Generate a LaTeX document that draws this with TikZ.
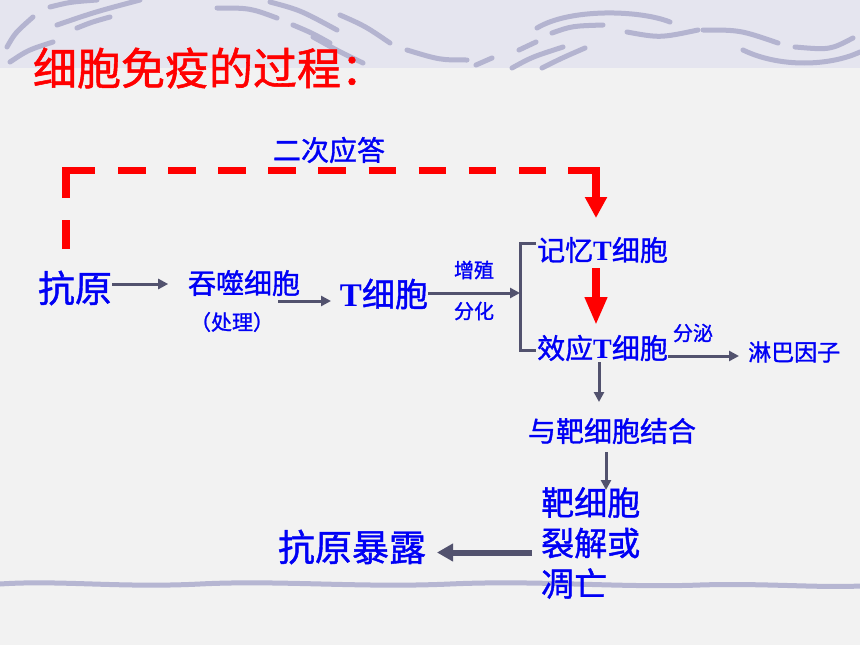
\documentclass[tikz,border=0pt]{standalone}
\usepackage{fontspec}
\newfontfamily\cjkfont[FakeBold=1.2]{Noto Sans CJK SC}
\newfontfamily\serifT{Liberation Serif}
\usetikzlibrary{arrows.meta}
\definecolor{bodybg}{RGB}{242,242,242}
\definecolor{bandbg}{RGB}{229,229,239}
\definecolor{swooshc}{RGB}{180,180,208}
\definecolor{lineband}{RGB}{182,182,210}
\definecolor{txtblue}{RGB}{0,0,245}
\definecolor{arrgray}{RGB}{82,82,110}
\definecolor{dashred}{RGB}{255,0,0}
\newcommand\Tb{{\serifT\bfseries T}}
\newcommand\fsz[1]{\fontsize{#1}{#1}\selectfont}
\begin{document}
\begin{tikzpicture}[x=1pt,y=-1pt,
  lbl/.style={inner sep=0pt, text=txtblue},
  swoosh/.style={draw=swooshc, line width=5pt, line cap=round},
  garrow/.style={draw=arrgray, line width=3pt, -{Triangle[length=10pt,width=10pt]}},
  gline/.style={draw=arrgray, line width=3pt},
  bigarrow/.style={draw=arrgray, line width=6pt, -{Triangle[length=16pt,width=17pt]}},
  reddash/.style={draw=dashred, line width=7.5pt, line join=miter},
  redarrow/.style={draw=dashred, line width=8pt, -{Triangle[length=28pt,width=21pt]}}]
% background
\useasboundingbox (0,0) rectangle (860,645);
\fill[bodybg] (0,0) rectangle (860,645);
\fill[bandbg] (0,0) rectangle (860,68);
% decorative strokes in the top band
\draw[swoosh] (7,47) .. controls (15,33) .. (33,17);
\draw[swoosh] (10,62) .. controls (28,50) .. (53,42);
\draw[swoosh] (50,7) .. controls (70,2) .. (97,0);
\draw[swoosh] (57,25) .. controls (95,12) .. (140,0);
\draw[swoosh] (77,28) .. controls (92,22) .. (110,17);
\draw[swoosh] (217,8) .. controls (250,8) .. (277,18);
\draw[swoosh] (270,2) .. controls (300,10) .. (337,30);
\draw[swoosh] (293,25) .. controls (312,33) .. (330,43);
\draw[swoosh] (340,15) .. controls (365,26) .. (390,43);
\draw[swoosh] (313,37) .. controls (340,52) .. (363,63);
\draw[swoosh] (407,50) .. controls (440,60) .. (467,60);
\draw[swoosh] (476,65) -- (492,58);
\draw[swoosh] (519,50) -- (536,42);
\draw[swoosh] (512,68) .. controls (532,57) .. (563,47);
\draw[swoosh] (542,68) .. controls (562,58) .. (585,48);
\draw[swoosh] (537,28) .. controls (570,8) and (640,10) .. (670,22);
\draw[swoosh] (552,33) .. controls (572,26) .. (603,25);
\draw[swoosh] (627,32) .. controls (660,38) .. (698,30);
\draw[swoosh] (703,30) .. controls (740,30) .. (778,43);
\draw[swoosh] (743,50) .. controls (780,68) and (830,66) .. (860,52);
\draw[swoosh] (795,47) .. controls (830,50) .. (853,38);
% bottom wavy line
\draw[draw=lineband, line width=5pt] (0,584) .. controls (60,580) and (120,588) .. (200,584)
  .. controls (280,580) and (360,588) .. (450,584) .. controls (540,580) and (620,588) .. (700,585)
  .. controls (760,583) and (820,588) .. (860,586);
% title
\node[inner sep=0pt, text=dashred, font=\cjkfont\fsz{44}] (title) at (209,68) {细胞免疫的过程：};
% nodes
\node[lbl, font=\cjkfont\fsz{28}] (erci) at (329,150) {二次应答};
\node[lbl, font=\cjkfont\fsz{37}] (kangyuan) at (75,288) {抗原};
\node[lbl, font=\cjkfont\fsz{28}] (tunshi) at (244,283) {吞噬细胞};
\node[lbl, font=\cjkfont\fsz{21}] (chuli) at (232,322) {（处理）};
\node[lbl, font=\cjkfont\fsz{33}] (tcell) at (384,294) {\Tb 细胞};
\node[lbl, font=\cjkfont\fsz{20}] (zengzhi) at (474,270) {增殖};
\node[lbl, font=\cjkfont\fsz{20}] (fenhua) at (474,311) {分化};
\node[lbl, font=\cjkfont\fsz{28}, anchor=west] (jiyi) at (537,250) {记忆\Tb 细胞};
\node[lbl, font=\cjkfont\fsz{28}, anchor=west] (xiaoying) at (537,348) {效应\Tb 细胞};
\node[lbl, font=\cjkfont\fsz{20}] (fenmi) at (693,333) {分泌};
\node[lbl, font=\cjkfont\fsz{23}, anchor=west] (linba) at (748,352) {淋巴因子};
\node[lbl, font=\cjkfont\fsz{28}] (yuba) at (612,431) {与靶细胞结合};
\node[lbl, font={\cjkfont\fontsize{33}{40.5}\selectfont}, anchor=west, align=left] (baxibao) at (541,543) {靶细胞\\裂解或\\凋亡};
\node[lbl, font=\cjkfont\fsz{37}] (baolu) at (352,547) {抗原暴露};
% secondary response dashed path
\coordinate (dA) at (66,249);
\coordinate (dB) at (66,220);
\coordinate (dC) at (66,198);
\coordinate (dCorner1) at (66,170.5);
\coordinate (dD) at (95,170.5);
\coordinate (dE) at (118,170.5);
\coordinate (dF) at (547,170.5);
\coordinate (dG) at (568,170.5);
\coordinate (dCorner2) at (596,170.5);
\coordinate (dTip) at (596,218);
\draw[reddash] (dA) -- (dB);
\draw[reddash] (dC) -- (dCorner1) -- (dD);
\draw[reddash, dash pattern=on 27.5pt off 22.6pt] (dE) -- (dF);
\draw[reddash, -{Triangle[length=21pt,width=21pt]}] (dG) -- (dCorner2) -- (dTip);
% memory -> effector
\coordinate (rA) at (596,268);
\coordinate (rB) at (596,325);
\draw[redarrow] (rA) -- (rB);
% grey connectors
\draw[garrow] ([yshift=4pt]kangyuan.east) -- ++(56,0);
\draw[garrow] (278,301) -- (331,301);
\coordinate (brM) at (520,293);
\coordinate (brT) at (520,243);
\coordinate (brB) at (520,350);
\draw[garrow] (tcell.east |- brM) -- (brM);
\draw[gline] (536,243) -- (brT) -- (brB) -- (536,350);
\draw[garrow] (668,356) -- (739,356);
\draw[garrow] (599,362) -- (599,402);
\draw[garrow] (606,452) -- (606,490);
\draw[bigarrow] (532,552.5) -- (437,552.5);
\end{tikzpicture}
\end{document}
